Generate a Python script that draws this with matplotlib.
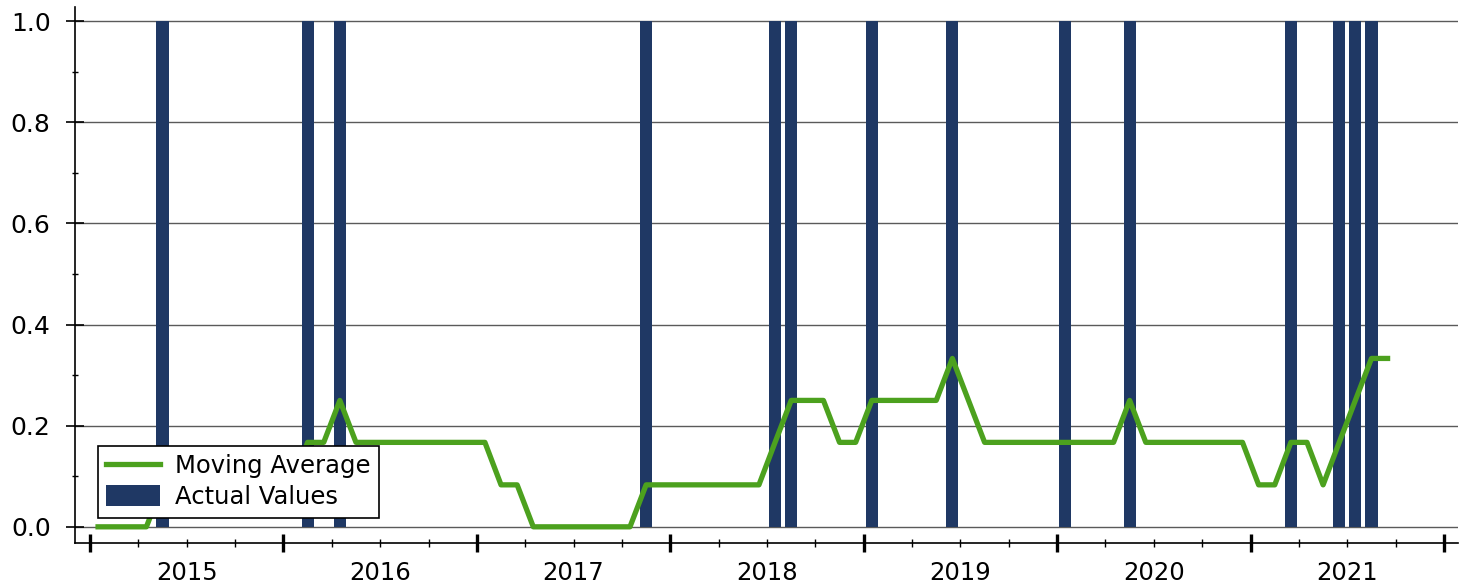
import numpy as np
import matplotlib.pyplot as plt
from matplotlib.ticker import FixedLocator, FixedFormatter, NullFormatter

# monthly data, Jan 2015 .. Sep 2021 (81 months)
years = ["2015", "2016", "2017", "2018", "2019", "2020", "2021"]

event_months = [4, 13, 15, 34, 42, 43, 48, 53, 60, 64, 74, 77, 78, 79]
actual_values = [1 if i in event_months else 0 for i in range(81)]

moving_avg = (
    [0.0] * 4 + [0.083] * 9 + [0.167, 0.167, 0.25] + [0.167] * 9
    + [0.083, 0.083] + [0.0] * 7 + [0.083] * 8 + [0.167] + [0.25] * 3
    + [0.167, 0.167] + [0.25] * 5 + [0.333, 0.25] + [0.167] * 9 + [0.25]
    + [0.167] * 7 + [0.083, 0.083, 0.167, 0.167, 0.083, 0.167, 0.25, 0.333, 0.333]
)

x = np.arange(len(actual_values)) + 0.5

plt.rcParams['font.family'] = ['DejaVu Sans']

fig = plt.figure(figsize=(14.68, 5.85), dpi=100)
ax = fig.add_axes([0.0511, 0.0718, 0.9421, 0.9162])

ax.grid(axis='y', color='#5a5a5a', linewidth=1.0, zorder=0)
ax.set_axisbelow(True)

ax.bar(x, actual_values, width=0.75, color='#1f3864', label='Actual Values', zorder=2)
ax.plot(x, moving_avg, color='#4ca11e', linewidth=3.8, label='Moving Average', zorder=3)

ax.set_xlim(-0.93, 84.87)
ax.set_ylim(-0.032, 1.028)

# y axis
ax.set_yticks([0.0, 0.2, 0.4, 0.6, 0.8, 1.0])
ax.set_yticklabels(['0.0', '0.2', '0.4', '0.6', '0.8', '1.0'])
ax.set_yticks(np.arange(0.1, 1.0, 0.2), minor=True)
ax.tick_params(axis='y', which='major', direction='inout', length=13, width=1.2,
               labelsize=18, pad=11)
ax.tick_params(axis='y', which='minor', direction='inout', length=4.5, width=1.0)

# x axis: year boundaries as major ticks, quarters as minor, year labels centred
ax.xaxis.set_major_locator(FixedLocator(np.arange(0, 85, 12)))
ax.xaxis.set_major_formatter(NullFormatter())
minor_pos = [m for m in range(3, 84, 3) if m % 12 != 0]
minor_lab = [years[m // 12] if m % 12 == 6 else '' for m in minor_pos]
ax.xaxis.set_minor_locator(FixedLocator(minor_pos))
ax.xaxis.set_minor_formatter(FixedFormatter(minor_lab))
ax.tick_params(axis='x', which='major', direction='inout', length=13, width=2.4)
ax.tick_params(axis='x', which='minor', direction='inout', length=6, width=1.0,
               labelsize=17.5, pad=10)

for side in ['top', 'right']:
    ax.spines[side].set_visible(False)
ax.spines['left'].set_linewidth(1.2)
ax.spines['bottom'].set_linewidth(1.2)

handles, labels = ax.get_legend_handles_labels()
leg = ax.legend(handles, labels, loc='lower left', bbox_to_anchor=(0.0166, 0.047),
                fontsize=17.5, frameon=True, fancybox=False, edgecolor='black',
                framealpha=1, handlelength=2.2, handleheight=0.95, handletextpad=0.6,
                borderaxespad=0, borderpad=0.35, labelspacing=0.3)
leg.get_frame().set_linewidth(1.2)

fig.savefig('out.png', dpi=100)
